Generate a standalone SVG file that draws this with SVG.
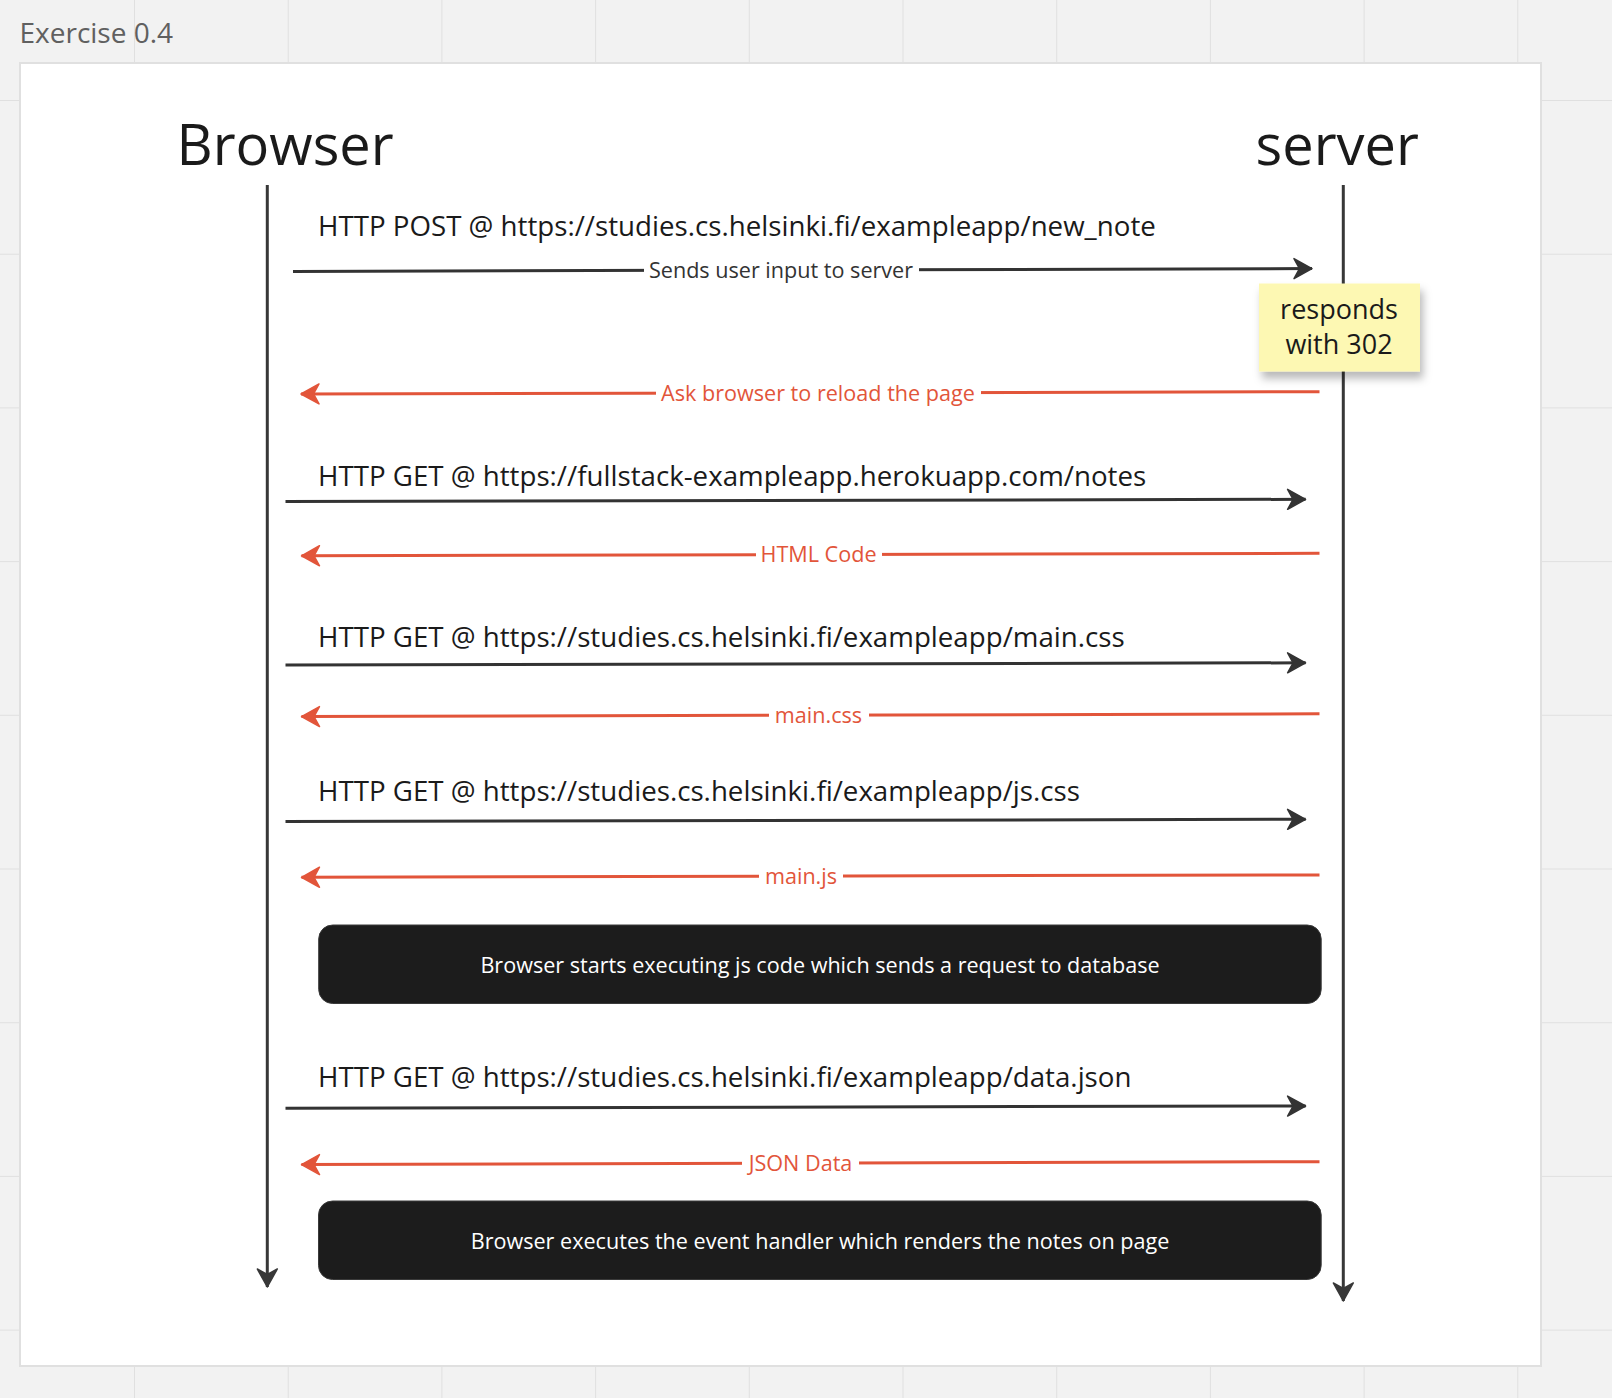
<svg xmlns="http://www.w3.org/2000/svg" width="1612" height="1398" viewBox="0 0 1612 1398">
  <style>
    text { font-family: "Open Sans", "Liberation Sans", sans-serif; }
    .title { font-size: 28px; fill: #606060; }
    .actor { font-size: 56px; fill: #1a1a1a; }
    .req { font-size: 27.7px; fill: #1a1a1a; }
    .lbl { font-size: 21.6px; text-anchor: middle; }
    .lbl-b { fill: #333333; }
    .lbl-r { fill: #e2553a; }
    .line-b { fill: none; stroke: #333333; stroke-width: 3; marker-end: url(#ah-b); }
    .line-r { fill: none; stroke: #e2553a; stroke-width: 3; marker-end: url(#ah-r); }
    .life { fill: none; stroke: #383838; stroke-width: 3; marker-end: url(#ah-l); }
    .gap { fill: #ffffff; }
    .box { fill: #1c1c1c; stroke: #3a3a3a; stroke-width: 1; }
    .boxtxt { font-size: 21.6px; fill: #ffffff; text-anchor: middle; }
    .sticky { fill: #fdf8b3; }
    .stickytxt { font-size: 27px; fill: #1a1a1a; text-anchor: middle; }
  </style>
  <defs>
    <pattern id="grid" patternUnits="userSpaceOnUse" x="134" y="100" width="153.7" height="153.7">
      <path d="M0,0 H153.7 M0,0 V153.7" fill="none" stroke="#e0e0e0" stroke-width="2"/>
    </pattern>
    <marker id="ah-b" markerUnits="userSpaceOnUse" viewBox="-20 -12 22 24" refX="0" refY="0" markerWidth="22" markerHeight="24" orient="auto">
      <path d="M0,0 L-18,-10 L-12.5,0 L-18,10 Z" fill="#333333" stroke="#333333" stroke-width="1.5" stroke-linejoin="round"/>
    </marker>
    <marker id="ah-r" markerUnits="userSpaceOnUse" viewBox="-20 -12 22 24" refX="0" refY="0" markerWidth="22" markerHeight="24" orient="auto">
      <path d="M0,0 L-18,-10 L-12.5,0 L-18,10 Z" fill="#e2553a" stroke="#e2553a" stroke-width="1.5" stroke-linejoin="round"/>
    </marker>
    <marker id="ah-l" markerUnits="userSpaceOnUse" viewBox="-20 -12 22 24" refX="0" refY="0" markerWidth="22" markerHeight="24" orient="auto">
      <path d="M0,0 L-18,-10 L-12.5,0 L-18,10 Z" fill="#383838" stroke="#383838" stroke-width="1.5" stroke-linejoin="round"/>
    </marker>
    <filter id="shadow" x="-20%" y="-20%" width="140%" height="160%">
      <feDropShadow dx="3" dy="7" stdDeviation="4" flood-color="#000000" flood-opacity="0.28"/>
    </filter>
  </defs>

  <!-- canvas background -->
  <rect x="0" y="0" width="1612" height="1398" fill="#f2f2f2"/>
  <rect x="0" y="0" width="1612" height="1398" fill="url(#grid)"/>
  <text class="title" x="19.5" y="43">Exercise 0.4</text>
  <rect x="20" y="63" width="1521" height="1303" fill="#ffffff" stroke="#e0e0e0" stroke-width="2"/>

  <!-- actors -->
  <g id="browser">
    <text class="actor" x="176.5" y="165">Browser</text>
  </g>
  <g id="server">
    <text class="actor" x="1255.5" y="165">server</text>
  </g>

  <!-- connectors -->
  <g id="connectors">
    <path class="life" d="M267.3,185 L267.3,1287"/>
    <path class="life" d="M1343.3,185 L1343.3,1301"/>

    <g id="c1">
      <path class="line-b" d="M293,271.4 L1312,268.6"/>
      <rect class="gap" x="644" y="258" width="275" height="24"/>
      <text class="lbl lbl-b" x="781" y="277.5">Sends user input to server</text>
    </g>
    <g id="c2">
      <path class="line-r" d="M1319.5,391.7 L301,394"/>
      <rect class="gap" x="656" y="381" width="325" height="26"/>
      <text class="lbl lbl-r" x="818" y="400.5">Ask browser to reload the page</text>
    </g>
    <g id="c3">
      <path class="line-b" d="M285.5,501.5 L1305.6,499.3"/>
    </g>
    <g id="c4">
      <path class="line-r" d="M1319.5,553.3 L301.5,555.8"/>
      <rect class="gap" x="756" y="542" width="126" height="26"/>
      <text class="lbl lbl-r" x="818.5" y="562">HTML Code</text>
    </g>
    <g id="c5">
      <path class="line-b" d="M285.5,665 L1305.6,662.8"/>
    </g>
    <g id="c6">
      <path class="line-r" d="M1319.5,713.8 L301.5,716.6"/>
      <rect class="gap" x="769" y="703" width="100" height="26"/>
      <text class="lbl lbl-r" x="818.5" y="722.5">main.css</text>
    </g>
    <g id="c7">
      <path class="line-b" d="M285.5,821.4 L1305.6,819.3"/>
    </g>
    <g id="c8">
      <path class="line-r" d="M1319.5,874.9 L301.5,877.3"/>
      <rect class="gap" x="759" y="864" width="84" height="26"/>
      <text class="lbl lbl-r" x="801" y="883.5">main.js</text>
    </g>
    <g id="c9">
      <path class="line-b" d="M285.5,1108.2 L1305.6,1106"/>
    </g>
    <g id="c10">
      <path class="line-r" d="M1319.5,1161.7 L301.5,1164.6"/>
      <rect class="gap" x="742" y="1151" width="117" height="26"/>
      <text class="lbl lbl-r" x="800.5" y="1170.5">JSON Data</text>
    </g>
  </g>

  <!-- request labels -->
  <g id="req-post"><text class="req" x="318" y="235.5">HTTP POST @ https://studies.cs.helsinki.fi/exampleapp/new_note</text></g>
  <g id="req-notes"><text class="req" x="318" y="485.5">HTTP GET @ https://fullstack-exampleapp.herokuapp.com/notes</text></g>
  <g id="req-css"><text class="req" x="318" y="646.5">HTTP GET @ https://studies.cs.helsinki.fi/exampleapp/main.css</text></g>
  <g id="req-js"><text class="req" x="318" y="800.5">HTTP GET @ https://studies.cs.helsinki.fi/exampleapp/js.css</text></g>
  <g id="req-json"><text class="req" x="318" y="1086.5">HTTP GET @ https://studies.cs.helsinki.fi/exampleapp/data.json</text></g>

  <!-- sticky note -->
  <g id="note-302">
    <rect class="sticky" x="1259" y="283.5" width="161" height="88" filter="url(#shadow)"/>
    <text class="stickytxt" x="1339" y="318.5">responds</text>
    <text class="stickytxt" x="1339" y="353.5">with 302</text>
  </g>

  <!-- process boxes -->
  <g id="box-exec">
    <rect class="box" x="318.7" y="925" width="1002.5" height="78.5" rx="14" ry="14"/>
    <text class="boxtxt" x="820" y="972.5">Browser starts executing js code which sends a request to database</text>
  </g>
  <g id="box-render">
    <rect class="box" x="318.5" y="1201" width="1002.7" height="78.5" rx="14" ry="14"/>
    <text class="boxtxt" x="820" y="1248.5">Browser executes the event handler which renders the notes on page</text>
  </g>
</svg>
